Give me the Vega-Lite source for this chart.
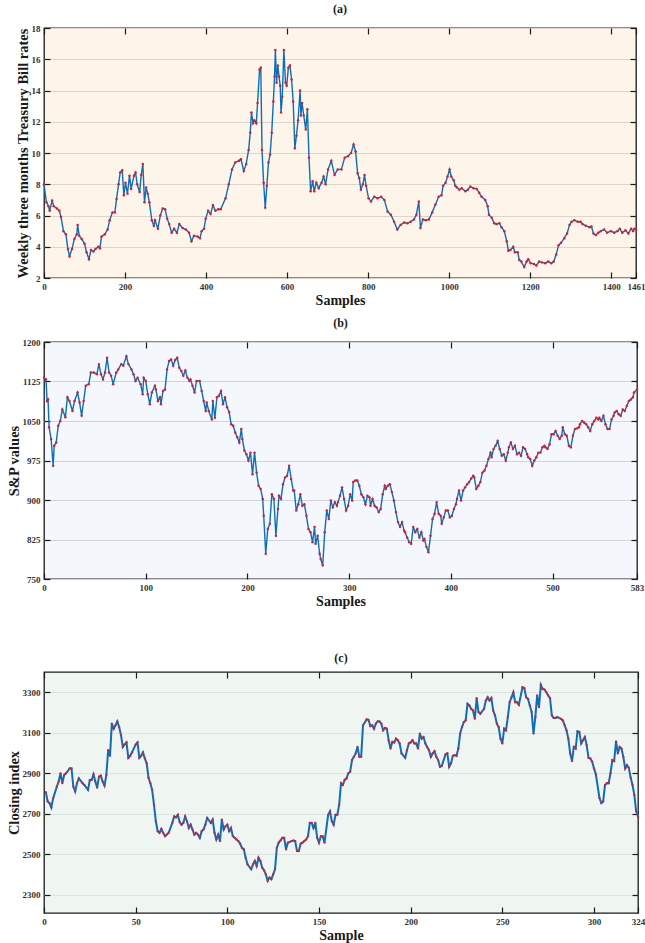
{
"$schema": "https://vega.github.io/schema/vega-lite/v6.json",
"background": "white",
"padding": {"left": 5, "top": 2, "right": 0, "bottom": 0},
"config": {
 "font": "Liberation Serif",
 "view": {"stroke": "#1a1a1a", "strokeWidth": 1.3},
 "axis": {"labelFont": "Liberation Serif", "labelFontWeight": "bold", "labelFontSize": 9, "labelColor": "#333333", "titleFont": "Liberation Serif", "titleFontWeight": "bold", "titleFontSize": 14.5, "titleColor": "#1a1a1a", "tickColor": "#1a1a1a", "tickWidth": 1.2, "tickSize": -6, "labelPadding": 10, "domain": false, "labelFlush": false, "labelOverlap": false, "titlePadding": 1, "format": "d"},
 "axisX": {"grid": false, "titlePadding": 2, "titleFontSize": 14},
 "title": {"font": "Liberation Serif", "fontWeight": "bold", "fontSize": 12, "offset": 8, "color": "#1a1a1a"}
},
"datasets": {
"a": [{"s":0,"v":8.0},{"s":6,"v":6.85},{"s":11,"v":6.6},{"s":14,"v":6.3},{"s":20,"v":6.95},{"s":24,"v":6.6},{"s":32,"v":6.45},{"s":38,"v":6.3},{"s":42,"v":5.9},{"s":48,"v":5.0},{"s":54,"v":4.8},{"s":59,"v":3.85},{"s":63,"v":3.4},{"s":69,"v":3.85},{"s":75,"v":4.5},{"s":81,"v":4.8},{"s":83,"v":5.4},{"s":87,"v":4.7},{"s":93,"v":4.5},{"s":100,"v":4.2},{"s":105,"v":3.65},{"s":111,"v":3.2},{"s":116,"v":3.8},{"s":122,"v":3.7},{"s":127,"v":3.85},{"s":134,"v":4.0},{"s":138,"v":3.9},{"s":142,"v":4.65},{"s":150,"v":4.8},{"s":157,"v":5.1},{"s":162,"v":5.7},{"s":169,"v":6.2},{"s":175,"v":6.2},{"s":179,"v":7.05},{"s":184,"v":8.0},{"s":188,"v":8.75},{"s":193,"v":8.9},{"s":197,"v":7.3},{"s":201,"v":8.1},{"s":206,"v":7.4},{"s":211,"v":8.55},{"s":215,"v":7.7},{"s":222,"v":8.55},{"s":226,"v":8.75},{"s":230,"v":8.0},{"s":236,"v":7.5},{"s":240,"v":8.6},{"s":244,"v":9.3},{"s":248,"v":6.85},{"s":252,"v":7.8},{"s":256,"v":7.4},{"s":260,"v":6.85},{"s":266,"v":5.7},{"s":271,"v":5.35},{"s":274,"v":5.7},{"s":281,"v":5.15},{"s":287,"v":6.0},{"s":293,"v":6.45},{"s":299,"v":6.4},{"s":304,"v":5.8},{"s":309,"v":5.45},{"s":315,"v":4.9},{"s":321,"v":5.15},{"s":328,"v":4.9},{"s":334,"v":5.45},{"s":342,"v":5.2},{"s":350,"v":5.1},{"s":358,"v":4.9},{"s":364,"v":4.35},{"s":370,"v":4.7},{"s":379,"v":4.65},{"s":385,"v":4.55},{"s":389,"v":5.0},{"s":395,"v":5.15},{"s":399,"v":5.8},{"s":405,"v":6.3},{"s":411,"v":6.1},{"s":417,"v":6.65},{"s":423,"v":6.3},{"s":430,"v":6.4},{"s":436,"v":6.4},{"s":448,"v":7.1},{"s":456,"v":8.0},{"s":464,"v":8.95},{"s":472,"v":9.4},{"s":481,"v":9.5},{"s":486,"v":9.6},{"s":493,"v":8.85},{"s":499,"v":9.3},{"s":505,"v":10.2},{"s":509,"v":11.3},{"s":512,"v":12.6},{"s":516,"v":11.9},{"s":519,"v":12.1},{"s":524,"v":11.9},{"s":527,"v":13.2},{"s":532,"v":15.35},{"s":535,"v":15.45},{"s":538,"v":10.2},{"s":542,"v":8.1},{"s":546,"v":6.5},{"s":550,"v":7.9},{"s":554,"v":9.4},{"s":558,"v":9.9},{"s":562,"v":11.3},{"s":566,"v":13.3},{"s":569,"v":14.9},{"s":571,"v":16.6},{"s":574,"v":14.5},{"s":577,"v":15.6},{"s":580,"v":14.9},{"s":583,"v":14.3},{"s":585,"v":12.6},{"s":588,"v":13.6},{"s":592,"v":16.6},{"s":596,"v":14.5},{"s":599,"v":14.3},{"s":603,"v":15.45},{"s":607,"v":15.6},{"s":611,"v":14.7},{"s":615,"v":13.3},{"s":619,"v":10.3},{"s":623,"v":11.1},{"s":627,"v":12.1},{"s":632,"v":14.0},{"s":634,"v":12.4},{"s":637,"v":13.2},{"s":641,"v":12.4},{"s":646,"v":11.5},{"s":650,"v":12.8},{"s":654,"v":9.7},{"s":658,"v":7.55},{"s":663,"v":8.2},{"s":667,"v":7.55},{"s":672,"v":8.1},{"s":678,"v":7.75},{"s":685,"v":8.1},{"s":690,"v":8.5},{"s":695,"v":8.0},{"s":701,"v":8.95},{"s":709,"v":9.5},{"s":717,"v":8.6},{"s":725,"v":8.95},{"s":734,"v":8.95},{"s":742,"v":9.7},{"s":750,"v":9.8},{"s":758,"v":10.0},{"s":764,"v":10.55},{"s":769,"v":10.1},{"s":774,"v":8.7},{"s":778,"v":8.4},{"s":782,"v":7.65},{"s":787,"v":8.0},{"s":791,"v":8.6},{"s":795,"v":7.9},{"s":801,"v":7.1},{"s":807,"v":6.9},{"s":815,"v":7.2},{"s":823,"v":7.1},{"s":832,"v":7.2},{"s":840,"v":7.0},{"s":848,"v":6.25},{"s":856,"v":6.05},{"s":864,"v":5.6},{"s":872,"v":5.1},{"s":880,"v":5.4},{"s":889,"v":5.55},{"s":897,"v":5.5},{"s":905,"v":5.6},{"s":913,"v":5.75},{"s":919,"v":6.05},{"s":925,"v":6.9},{"s":929,"v":5.2},{"s":935,"v":5.75},{"s":942,"v":5.7},{"s":950,"v":5.75},{"s":958,"v":6.2},{"s":966,"v":6.7},{"s":974,"v":7.2},{"s":981,"v":7.3},{"s":985,"v":7.9},{"s":991,"v":8.1},{"s":996,"v":8.5},{"s":1001,"v":8.95},{"s":1005,"v":8.5},{"s":1011,"v":8.25},{"s":1015,"v":7.9},{"s":1019,"v":7.8},{"s":1025,"v":7.65},{"s":1031,"v":7.75},{"s":1040,"v":7.55},{"s":1046,"v":7.65},{"s":1052,"v":7.85},{"s":1060,"v":7.75},{"s":1068,"v":7.7},{"s":1074,"v":7.45},{"s":1080,"v":7.2},{"s":1089,"v":7.0},{"s":1095,"v":6.6},{"s":1098,"v":6.05},{"s":1105,"v":5.85},{"s":1111,"v":5.5},{"s":1117,"v":5.45},{"s":1124,"v":5.5},{"s":1129,"v":5.25},{"s":1136,"v":5.0},{"s":1142,"v":4.35},{"s":1146,"v":3.75},{"s":1151,"v":3.8},{"s":1158,"v":4.0},{"s":1162,"v":3.65},{"s":1169,"v":3.65},{"s":1173,"v":3.15},{"s":1178,"v":3.05},{"s":1185,"v":2.7},{"s":1191,"v":3.05},{"s":1195,"v":3.2},{"s":1201,"v":2.95},{"s":1209,"v":2.9},{"s":1215,"v":2.8},{"s":1222,"v":3.05},{"s":1229,"v":3.0},{"s":1237,"v":2.95},{"s":1244,"v":3.05},{"s":1252,"v":2.95},{"s":1258,"v":3.05},{"s":1264,"v":3.5},{"s":1270,"v":4.1},{"s":1276,"v":4.25},{"s":1284,"v":4.55},{"s":1291,"v":4.85},{"s":1297,"v":5.4},{"s":1302,"v":5.6},{"s":1309,"v":5.7},{"s":1317,"v":5.6},{"s":1324,"v":5.6},{"s":1329,"v":5.45},{"s":1337,"v":5.35},{"s":1346,"v":5.25},{"s":1351,"v":5.3},{"s":1356,"v":4.85},{"s":1362,"v":4.75},{"s":1368,"v":4.9},{"s":1374,"v":5.0},{"s":1382,"v":5.1},{"s":1390,"v":4.9},{"s":1399,"v":5.0},{"s":1407,"v":4.9},{"s":1415,"v":5.0},{"s":1421,"v":5.15},{"s":1427,"v":4.9},{"s":1435,"v":5.05},{"s":1442,"v":4.85},{"s":1449,"v":5.15},{"s":1454,"v":5.0},{"s":1457,"v":5.15},{"s":1461,"v":5.1}],
"b": [{"s":0,"v":1132},{"s":2,"v":1129},{"s":3,"v":1088},{"s":4,"v":1091},{"s":5,"v":1038},{"s":7,"v":1016},{"s":9,"v":965},{"s":10,"v":1003},{"s":12,"v":1009},{"s":14,"v":1041},{"s":16,"v":1050},{"s":18,"v":1072},{"s":21,"v":1057},{"s":23,"v":1095},{"s":25,"v":1088},{"s":28,"v":1069},{"s":30,"v":1088},{"s":33,"v":1104},{"s":35,"v":1085},{"s":37,"v":1060},{"s":39,"v":1088},{"s":41,"v":1117},{"s":44,"v":1120},{"s":46,"v":1142},{"s":49,"v":1142},{"s":52,"v":1139},{"s":54,"v":1158},{"s":56,"v":1139},{"s":58,"v":1129},{"s":60,"v":1142},{"s":62,"v":1170},{"s":64,"v":1142},{"s":66,"v":1136},{"s":68,"v":1120},{"s":71,"v":1142},{"s":73,"v":1148},{"s":76,"v":1158},{"s":78,"v":1155},{"s":81,"v":1173},{"s":83,"v":1158},{"s":86,"v":1148},{"s":88,"v":1139},{"s":90,"v":1126},{"s":92,"v":1132},{"s":95,"v":1120},{"s":97,"v":1101},{"s":98,"v":1132},{"s":100,"v":1126},{"s":102,"v":1101},{"s":104,"v":1082},{"s":106,"v":1104},{"s":109,"v":1117},{"s":110,"v":1110},{"s":112,"v":1088},{"s":114,"v":1095},{"s":115,"v":1082},{"s":117,"v":1107},{"s":119,"v":1110},{"s":121,"v":1148},{"s":123,"v":1164},{"s":125,"v":1167},{"s":127,"v":1155},{"s":129,"v":1166},{"s":131,"v":1170},{"s":133,"v":1151},{"s":135,"v":1145},{"s":137,"v":1136},{"s":139,"v":1146},{"s":141,"v":1132},{"s":143,"v":1126},{"s":144,"v":1129},{"s":146,"v":1117},{"s":148,"v":1104},{"s":150,"v":1126},{"s":153,"v":1126},{"s":155,"v":1107},{"s":157,"v":1088},{"s":159,"v":1069},{"s":160,"v":1085},{"s":162,"v":1069},{"s":165,"v":1053},{"s":166,"v":1088},{"s":168,"v":1056},{"s":170,"v":1095},{"s":172,"v":1098},{"s":174,"v":1107},{"s":176,"v":1082},{"s":178,"v":1095},{"s":180,"v":1076},{"s":182,"v":1067},{"s":184,"v":1044},{"s":186,"v":1041},{"s":188,"v":1028},{"s":190,"v":1019},{"s":192,"v":1009},{"s":194,"v":1035},{"s":195,"v":1016},{"s":197,"v":994},{"s":199,"v":987},{"s":201,"v":975},{"s":203,"v":990},{"s":205,"v":949},{"s":207,"v":990},{"s":209,"v":952},{"s":211,"v":927},{"s":213,"v":921},{"s":215,"v":902},{"s":216,"v":870},{"s":218,"v":798},{"s":220,"v":845},{"s":222,"v":855},{"s":224,"v":911},{"s":226,"v":902},{"s":228,"v":832},{"s":230,"v":883},{"s":231,"v":908},{"s":233,"v":902},{"s":235,"v":930},{"s":237,"v":943},{"s":239,"v":946},{"s":241,"v":965},{"s":243,"v":940},{"s":245,"v":918},{"s":246,"v":918},{"s":248,"v":880},{"s":250,"v":892},{"s":252,"v":911},{"s":254,"v":889},{"s":256,"v":892},{"s":258,"v":870},{"s":260,"v":845},{"s":262,"v":839},{"s":264,"v":820},{"s":266,"v":849},{"s":267,"v":817},{"s":269,"v":832},{"s":271,"v":798},{"s":272,"v":788},{"s":274,"v":776},{"s":276,"v":839},{"s":278,"v":880},{"s":280,"v":864},{"s":282,"v":899},{"s":284,"v":886},{"s":286,"v":896},{"s":288,"v":889},{"s":289,"v":896},{"s":291,"v":908},{"s":293,"v":924},{"s":295,"v":902},{"s":297,"v":880},{"s":299,"v":889},{"s":301,"v":911},{"s":303,"v":899},{"s":304,"v":934},{"s":306,"v":937},{"s":308,"v":937},{"s":310,"v":927},{"s":312,"v":911},{"s":314,"v":905},{"s":316,"v":892},{"s":318,"v":908},{"s":320,"v":905},{"s":321,"v":889},{"s":323,"v":902},{"s":325,"v":889},{"s":327,"v":886},{"s":329,"v":877},{"s":331,"v":883},{"s":333,"v":911},{"s":335,"v":927},{"s":336,"v":921},{"s":338,"v":927},{"s":340,"v":930},{"s":342,"v":915},{"s":344,"v":899},{"s":346,"v":877},{"s":348,"v":858},{"s":350,"v":849},{"s":352,"v":858},{"s":354,"v":842},{"s":355,"v":839},{"s":357,"v":829},{"s":359,"v":820},{"s":361,"v":817},{"s":363,"v":849},{"s":365,"v":839},{"s":367,"v":845},{"s":369,"v":829},{"s":371,"v":839},{"s":373,"v":823},{"s":374,"v":826},{"s":376,"v":811},{"s":378,"v":801},{"s":380,"v":832},{"s":382,"v":864},{"s":384,"v":874},{"s":386,"v":896},{"s":388,"v":874},{"s":390,"v":870},{"s":391,"v":855},{"s":393,"v":867},{"s":395,"v":880},{"s":397,"v":880},{"s":399,"v":867},{"s":401,"v":870},{"s":403,"v":883},{"s":405,"v":892},{"s":406,"v":902},{"s":408,"v":918},{"s":410,"v":899},{"s":412,"v":918},{"s":414,"v":924},{"s":416,"v":930},{"s":418,"v":934},{"s":420,"v":941},{"s":422,"v":946},{"s":423,"v":943},{"s":425,"v":921},{"s":427,"v":927},{"s":429,"v":934},{"s":431,"v":952},{"s":433,"v":956},{"s":435,"v":965},{"s":437,"v":978},{"s":439,"v":990},{"s":440,"v":981},{"s":442,"v":997},{"s":444,"v":1003},{"s":446,"v":1012},{"s":448,"v":997},{"s":450,"v":984},{"s":452,"v":987},{"s":454,"v":975},{"s":456,"v":990},{"s":457,"v":1000},{"s":459,"v":1009},{"s":461,"v":997},{"s":463,"v":1003},{"s":465,"v":987},{"s":467,"v":990},{"s":469,"v":984},{"s":471,"v":1000},{"s":473,"v":997},{"s":475,"v":987},{"s":476,"v":981},{"s":478,"v":978},{"s":480,"v":965},{"s":482,"v":975},{"s":484,"v":981},{"s":486,"v":990},{"s":488,"v":990},{"s":490,"v":1000},{"s":492,"v":1003},{"s":493,"v":1000},{"s":495,"v":997},{"s":497,"v":1006},{"s":499,"v":1025},{"s":501,"v":1025},{"s":503,"v":1031},{"s":505,"v":1022},{"s":507,"v":1016},{"s":509,"v":1022},{"s":510,"v":1038},{"s":512,"v":1025},{"s":514,"v":1022},{"s":516,"v":1003},{"s":518,"v":1000},{"s":520,"v":1022},{"s":522,"v":1035},{"s":524,"v":1036},{"s":526,"v":1038},{"s":527,"v":1044},{"s":529,"v":1050},{"s":531,"v":1047},{"s":533,"v":1044},{"s":535,"v":1038},{"s":537,"v":1031},{"s":539,"v":1044},{"s":541,"v":1050},{"s":543,"v":1056},{"s":545,"v":1053},{"s":546,"v":1056},{"s":548,"v":1050},{"s":550,"v":1060},{"s":552,"v":1044},{"s":554,"v":1035},{"s":556,"v":1035},{"s":558,"v":1053},{"s":560,"v":1060},{"s":561,"v":1066},{"s":563,"v":1069},{"s":565,"v":1063},{"s":567,"v":1060},{"s":569,"v":1072},{"s":571,"v":1069},{"s":573,"v":1079},{"s":575,"v":1088},{"s":577,"v":1091},{"s":579,"v":1095},{"s":580,"v":1104},{"s":583,"v":1110}],
"c": [{"s":1,"v":2807},{"s":2,"v":2761},{"s":3,"v":2753},{"s":4,"v":2731},{"s":5,"v":2777},{"s":7,"v":2834},{"s":8,"v":2859},{"s":9,"v":2900},{"s":10,"v":2851},{"s":11,"v":2891},{"s":12,"v":2900},{"s":14,"v":2924},{"s":15,"v":2924},{"s":16,"v":2834},{"s":17,"v":2810},{"s":18,"v":2851},{"s":19,"v":2875},{"s":21,"v":2851},{"s":22,"v":2842},{"s":24,"v":2818},{"s":25,"v":2867},{"s":26,"v":2867},{"s":27,"v":2895},{"s":28,"v":2859},{"s":29,"v":2829},{"s":30,"v":2883},{"s":31,"v":2888},{"s":32,"v":2859},{"s":33,"v":2839},{"s":34,"v":2891},{"s":35,"v":3014},{"s":36,"v":2986},{"s":37,"v":3145},{"s":38,"v":3120},{"s":39,"v":3137},{"s":40,"v":3156},{"s":41,"v":3128},{"s":42,"v":3088},{"s":43,"v":3030},{"s":44,"v":3042},{"s":45,"v":3052},{"s":46,"v":2976},{"s":47,"v":2986},{"s":48,"v":3003},{"s":50,"v":3042},{"s":51,"v":3052},{"s":52,"v":2976},{"s":53,"v":2986},{"s":54,"v":3003},{"s":55,"v":2973},{"s":56,"v":2949},{"s":57,"v":2878},{"s":58,"v":2851},{"s":59,"v":2818},{"s":60,"v":2744},{"s":61,"v":2663},{"s":62,"v":2614},{"s":63,"v":2606},{"s":64,"v":2625},{"s":65,"v":2606},{"s":66,"v":2589},{"s":67,"v":2597},{"s":68,"v":2606},{"s":70,"v":2655},{"s":71,"v":2687},{"s":72,"v":2682},{"s":73,"v":2695},{"s":74,"v":2659},{"s":75,"v":2646},{"s":76,"v":2655},{"s":77,"v":2687},{"s":78,"v":2663},{"s":79,"v":2630},{"s":80,"v":2646},{"s":81,"v":2622},{"s":82,"v":2597},{"s":83,"v":2606},{"s":84,"v":2597},{"s":85,"v":2581},{"s":86,"v":2614},{"s":87,"v":2622},{"s":88,"v":2646},{"s":89,"v":2679},{"s":91,"v":2655},{"s":92,"v":2671},{"s":93,"v":2606},{"s":94,"v":2573},{"s":95,"v":2597},{"s":96,"v":2565},{"s":97,"v":2671},{"s":98,"v":2622},{"s":99,"v":2638},{"s":100,"v":2646},{"s":101,"v":2614},{"s":102,"v":2630},{"s":103,"v":2589},{"s":104,"v":2581},{"s":105,"v":2573},{"s":106,"v":2565},{"s":107,"v":2552},{"s":108,"v":2532},{"s":109,"v":2524},{"s":110,"v":2483},{"s":111,"v":2450},{"s":113,"v":2426},{"s":114,"v":2450},{"s":115,"v":2467},{"s":116,"v":2442},{"s":117,"v":2483},{"s":118,"v":2467},{"s":119,"v":2434},{"s":120,"v":2421},{"s":121,"v":2401},{"s":122,"v":2369},{"s":123,"v":2385},{"s":124,"v":2377},{"s":125,"v":2401},{"s":126,"v":2426},{"s":127,"v":2532},{"s":128,"v":2557},{"s":129,"v":2568},{"s":130,"v":2581},{"s":131,"v":2581},{"s":132,"v":2524},{"s":133,"v":2557},{"s":135,"v":2565},{"s":136,"v":2568},{"s":137,"v":2565},{"s":138,"v":2516},{"s":139,"v":2516},{"s":140,"v":2552},{"s":141,"v":2557},{"s":142,"v":2565},{"s":143,"v":2573},{"s":144,"v":2589},{"s":145,"v":2655},{"s":146,"v":2655},{"s":147,"v":2630},{"s":148,"v":2655},{"s":149,"v":2581},{"s":150,"v":2557},{"s":151,"v":2589},{"s":152,"v":2589},{"s":153,"v":2557},{"s":155,"v":2695},{"s":156,"v":2712},{"s":157,"v":2663},{"s":158,"v":2646},{"s":159,"v":2695},{"s":160,"v":2695},{"s":161,"v":2744},{"s":162,"v":2851},{"s":163,"v":2842},{"s":164,"v":2867},{"s":165,"v":2875},{"s":166,"v":2900},{"s":167,"v":2908},{"s":168,"v":2965},{"s":169,"v":2981},{"s":170,"v":2998},{"s":171,"v":3030},{"s":172,"v":2981},{"s":173,"v":2981},{"s":174,"v":3137},{"s":176,"v":3166},{"s":177,"v":3164},{"s":178,"v":3133},{"s":179,"v":3137},{"s":180,"v":3120},{"s":181,"v":3145},{"s":182,"v":3156},{"s":183,"v":3156},{"s":184,"v":3145},{"s":185,"v":3112},{"s":186,"v":3124},{"s":187,"v":3120},{"s":188,"v":3063},{"s":189,"v":3022},{"s":190,"v":3055},{"s":191,"v":3052},{"s":192,"v":3071},{"s":193,"v":3063},{"s":194,"v":3047},{"s":195,"v":2998},{"s":197,"v":2976},{"s":198,"v":3014},{"s":199,"v":3047},{"s":200,"v":3052},{"s":201,"v":3063},{"s":202,"v":3047},{"s":203,"v":3047},{"s":204,"v":3022},{"s":205,"v":3096},{"s":206,"v":3071},{"s":207,"v":3079},{"s":208,"v":3047},{"s":209,"v":3030},{"s":210,"v":3014},{"s":211,"v":2981},{"s":212,"v":2998},{"s":213,"v":3009},{"s":214,"v":2981},{"s":215,"v":2965},{"s":216,"v":2932},{"s":217,"v":2937},{"s":219,"v":2993},{"s":220,"v":2998},{"s":221,"v":2932},{"s":222,"v":2949},{"s":223,"v":2986},{"s":224,"v":2990},{"s":225,"v":2986},{"s":226,"v":3022},{"s":227,"v":3096},{"s":228,"v":3128},{"s":229,"v":3153},{"s":230,"v":3161},{"s":231,"v":3243},{"s":232,"v":3235},{"s":233,"v":3218},{"s":234,"v":3210},{"s":235,"v":3169},{"s":236,"v":3271},{"s":237,"v":3202},{"s":238,"v":3194},{"s":240,"v":3218},{"s":241,"v":3259},{"s":242,"v":3275},{"s":243,"v":3259},{"s":244,"v":3271},{"s":245,"v":3210},{"s":246,"v":3186},{"s":247,"v":3145},{"s":248,"v":3128},{"s":249,"v":3071},{"s":250,"v":3047},{"s":251,"v":3120},{"s":252,"v":3112},{"s":253,"v":3177},{"s":254,"v":3251},{"s":255,"v":3275},{"s":256,"v":3300},{"s":257,"v":3251},{"s":258,"v":3251},{"s":259,"v":3238},{"s":261,"v":3325},{"s":262,"v":3320},{"s":263,"v":3275},{"s":264,"v":3267},{"s":265,"v":3235},{"s":266,"v":3202},{"s":267,"v":3096},{"s":268,"v":3177},{"s":269,"v":3284},{"s":270,"v":3226},{"s":271,"v":3336},{"s":272,"v":3316},{"s":273,"v":3313},{"s":274,"v":3300},{"s":275,"v":3284},{"s":276,"v":3271},{"s":277,"v":3186},{"s":278,"v":3173},{"s":279,"v":3173},{"s":280,"v":3177},{"s":282,"v":3169},{"s":283,"v":3161},{"s":284,"v":3137},{"s":285,"v":3112},{"s":286,"v":3071},{"s":287,"v":2998},{"s":288,"v":2960},{"s":289,"v":3030},{"s":290,"v":3022},{"s":291,"v":3107},{"s":292,"v":3104},{"s":293,"v":3047},{"s":294,"v":3063},{"s":295,"v":3079},{"s":296,"v":3039},{"s":297,"v":2976},{"s":298,"v":2973},{"s":299,"v":2957},{"s":300,"v":2924},{"s":301,"v":2895},{"s":303,"v":2777},{"s":304,"v":2753},{"s":305,"v":2761},{"s":306,"v":2842},{"s":307,"v":2851},{"s":308,"v":2851},{"s":309,"v":2900},{"s":310,"v":2965},{"s":311,"v":2960},{"s":312,"v":3058},{"s":313,"v":2998},{"s":314,"v":3030},{"s":315,"v":3022},{"s":316,"v":2981},{"s":317,"v":2924},{"s":318,"v":2940},{"s":319,"v":2927},{"s":320,"v":2878},{"s":321,"v":2842},{"s":322,"v":2793},{"s":323,"v":2712},{"s":324,"v":2687}]
},
"spacing": 42,
"vconcat": [
{"spacing": 8, "vconcat": [
{
 "title": {"text": "(a)"},
 "width": 592, "height": 250,
 "view": {"fill": "#fdf5ea"},
 "data": {"name": "a"},
 "layer": [
  {"mark": {"type": "line", "color": "#0b6fb8", "strokeWidth": 1.4},
   "encoding": {
    "x": {"field": "s", "type": "quantitative", "scale": {"domain": [0, 1461], "nice": false, "zero": false}, "axis": {"values": [0,200,400,600,800,1000,1200,1400,1461], "title": "Samples"}},
    "y": {"field": "v", "type": "quantitative", "scale": {"domain": [2, 18], "nice": false, "zero": false}, "axis": {"values": [2,4,6,8,10,12,14,16,18], "title": "Weekly three months Treasury Bill rates", "grid": true, "gridColor": "#ddd5ca", "gridWidth": 1}}}},
  {"mark": {"type": "point", "filled": true, "color": "#e3172b", "size": 6, "opacity": 1},
   "encoding": {
    "x": {"field": "s", "type": "quantitative", "scale": {"domain": [0, 1461], "nice": false, "zero": false}, "axis": null},
    "y": {"field": "v", "type": "quantitative", "scale": {"domain": [2, 18], "nice": false, "zero": false}, "axis": null}}},
  {"mark": {"type": "line", "opacity": 0},
   "encoding": {
    "x": {"field": "s", "type": "quantitative", "scale": {"domain": [0, 1461], "nice": false, "zero": false}, "axis": {"orient": "top", "labels": false, "title": null, "values": [0,200,400,600,800,1000,1200,1400,1461]}},
    "y": {"field": "v", "type": "quantitative", "scale": {"domain": [2, 18], "nice": false, "zero": false}, "axis": {"orient": "right", "labels": false, "title": null, "grid": false, "values": [2,4,6,8,10,12,14,16,18]}}}}
 ],
 "resolve": {"scale": {"x": "independent", "y": "independent"}}
},
{
 "title": {"text": "(b)"},
 "width": 593, "height": 237,
 "view": {"fill": "#f4f7fc"},
 "data": {"name": "b"},
 "layer": [
  {"mark": {"type": "line", "color": "#0b6fb8", "strokeWidth": 1.4},
   "encoding": {
    "x": {"field": "s", "type": "quantitative", "scale": {"domain": [0, 583], "nice": false, "zero": false}, "axis": {"values": [0,100,200,300,400,500,583], "title": "Samples"}},
    "y": {"field": "v", "type": "quantitative", "scale": {"domain": [750, 1200], "nice": false, "zero": false}, "axis": {"values": [750,825,900,975,1050,1125,1200], "title": "S&P values", "grid": true, "gridColor": "#d0d4da", "gridWidth": 1}}}},
  {"mark": {"type": "point", "filled": true, "color": "#e3172b", "size": 6, "opacity": 1},
   "encoding": {
    "x": {"field": "s", "type": "quantitative", "scale": {"domain": [0, 583], "nice": false, "zero": false}, "axis": null},
    "y": {"field": "v", "type": "quantitative", "scale": {"domain": [750, 1200], "nice": false, "zero": false}, "axis": null}}},
  {"mark": {"type": "line", "opacity": 0},
   "encoding": {
    "x": {"field": "s", "type": "quantitative", "scale": {"domain": [0, 583], "nice": false, "zero": false}, "axis": {"orient": "top", "labels": false, "title": null, "values": [0,100,200,300,400,500,583]}},
    "y": {"field": "v", "type": "quantitative", "scale": {"domain": [750, 1200], "nice": false, "zero": false}, "axis": {"orient": "right", "labels": false, "title": null, "grid": false, "values": [750,825,900,975,1050,1125,1200]}}}}
 ],
 "resolve": {"scale": {"x": "independent", "y": "independent"}}
}
]},
{
 "title": {"text": "(c)", "offset": 6},
 "width": 594, "height": 241,
 "view": {"fill": "#eff5f1"},
 "data": {"name": "c"},
 "layer": [
  {"mark": {"type": "line", "color": "#0b6fb8", "strokeWidth": 2},
   "encoding": {
    "x": {"field": "s", "type": "quantitative", "scale": {"domain": [0, 324], "nice": false, "zero": false}, "axis": {"values": [0,50,100,150,200,250,300,324], "title": "Sample"}},
    "y": {"field": "v", "type": "quantitative", "scale": {"domain": [2210, 3400], "nice": false, "zero": false}, "axis": {"values": [2300,2500,2700,2900,3100,3300], "title": "Closing index", "grid": true, "gridColor": "#dde4df", "gridWidth": 1}}}},
  {"mark": {"type": "point", "filled": true, "color": "#e3172b", "size": 5, "opacity": 1},
   "encoding": {
    "x": {"field": "s", "type": "quantitative", "scale": {"domain": [0, 324], "nice": false, "zero": false}, "axis": null},
    "y": {"field": "v", "type": "quantitative", "scale": {"domain": [2210, 3400], "nice": false, "zero": false}, "axis": null}}},
  {"mark": {"type": "line", "opacity": 0},
   "encoding": {
    "x": {"field": "s", "type": "quantitative", "scale": {"domain": [0, 324], "nice": false, "zero": false}, "axis": {"orient": "top", "labels": false, "title": null, "values": [0,50,100,150,200,250,300,324]}},
    "y": {"field": "v", "type": "quantitative", "scale": {"domain": [2210, 3400], "nice": false, "zero": false}, "axis": {"orient": "right", "labels": false, "title": null, "grid": false, "values": [2300,2500,2700,2900,3100,3300]}}}}
 ],
 "resolve": {"scale": {"x": "independent", "y": "independent"}}
}
]
}
